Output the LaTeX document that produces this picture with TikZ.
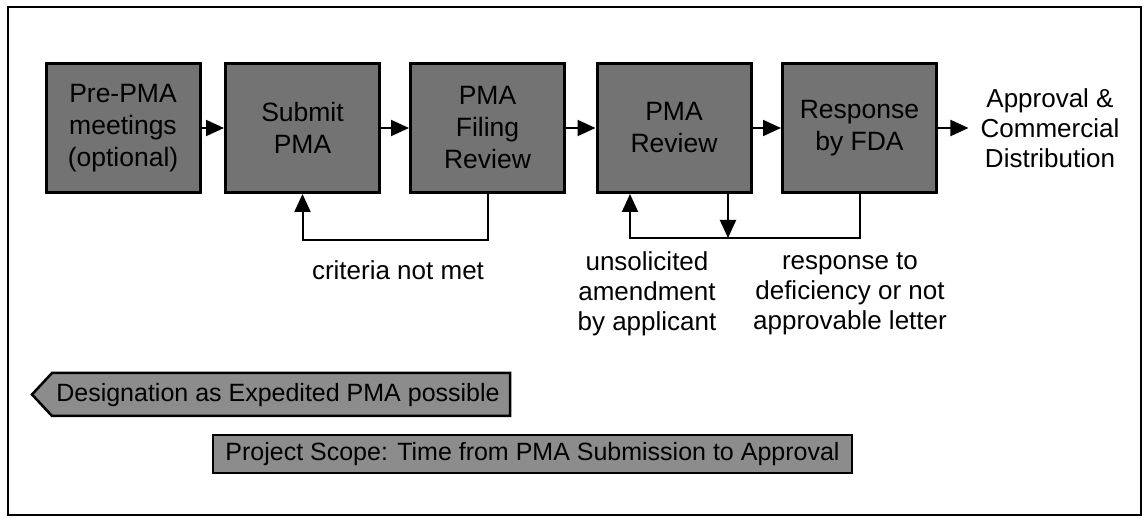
\documentclass[tikz,border=0pt]{standalone}
\usepackage{fontspec}
\setmainfont{Liberation Sans}
\usetikzlibrary{arrows.meta,calc}
\definecolor{boxgray}{gray}{0.45}
\definecolor{bannergray}{gray}{0.55}
\tikzset{
  stepbox/.style={draw=black, line width=3pt, fill=boxgray, minimum width=154pt, minimum height=129pt,
    align=center, inner sep=0pt, font=\fontsize{26.5}{32}\selectfont},
  conn/.style={line width=2pt, -{Triangle[length=18pt,width=16pt]}},
  label/.style={align=center, inner sep=0pt, font=\fontsize{26}{30}\selectfont},
  banner/.style={draw=black, line width=2.5pt, fill=bannergray},
  bannertext/.style={inner sep=0pt, font=\fontsize{25}{30}\selectfont}
}
\begin{document}
\begin{tikzpicture}[x=1pt,y=-1pt]
\useasboundingbox (0,0) rectangle (1144,518);
\draw[line width=2pt] (8,7) rectangle (1141,515);
% boxes
\node[stepbox] (b1) at (123,128) {Pre-PMA\\meetings\\(optional)};
\node[stepbox] (b2) at (302.5,128) {Submit\\PMA};
\node[stepbox] (b3) at (487.5,128) {PMA\\Filing\\Review};
\node[stepbox] (b4) at (674,128) {PMA\\Review};
\node[stepbox] (b5) at (859.5,128) {Response\\by FDA};
\node[label] (appr) at (1050,128) {Approval \&\\Commercial\\Distribution};
% forward arrows
\draw[conn] (b1) -- (b2);
\draw[conn] (b2) -- (b3);
\draw[conn] (b3) -- (b4);
\draw[conn] (b4) -- (b5);
\draw[conn, shorten >=12pt] (b5) -- (appr.west);
% feedback loops
\coordinate (y1) at (0,240);
\coordinate (y2) at (0,238);
\coordinate (b4l) at ($(b4.south)+(-44,0)$);
\coordinate (b4r) at ($(b4.south)+(54,0)$);
\draw[conn] (b3.south) -- (b3.south |- y1) -- (b2.south |- y1) -- (b2.south);
\draw[conn] (b5.south) -- (b5.south |- y2) -- (b4l |- y2) -- (b4l);
\draw[conn] (b4r) -- (b4r |- y2);
% labels
\node[label] (crit) at (398,270) {criteria not met};
\node[label] (unsol) at (647,294) {unsolicited\\amendment\\by applicant};
\node[label] (resp) at (850,294) {response to\\deficiency or not\\approvable letter};
% banners
\draw[banner] (52,373) -- (510,373) -- (510,416) -- (52,416) -- (32,394.5) -- cycle;
\node[bannertext] (des) at (278,395) {Designation as Expedited PMA possible};
\draw[banner] (213,435) rectangle (852,473);
\node[bannertext] (scope) at (532.5,454) {Project Scope: Time from PMA Submission to Approval};
\end{tikzpicture}
\end{document}
